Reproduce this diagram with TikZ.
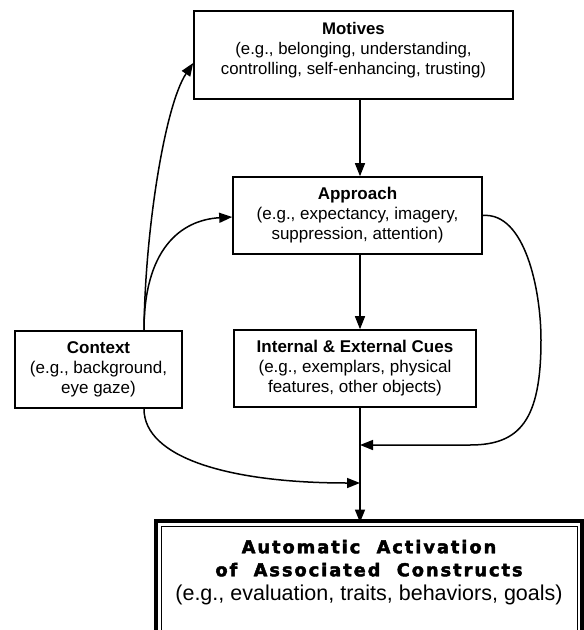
\documentclass[tikz,border=0pt]{standalone}
\usepackage{fontspec}
\setmainfont{Liberation Sans}
\newfontfamily\heavyfont{DejaVu Sans Bold}[LetterSpace=11,FakeBold=2.5]
\usetikzlibrary{arrows.meta}
\tikzset{
  boxnode/.style={draw, line width=1.6pt, align=center, inner sep=0pt,
    font=\fontsize{17}{20}\selectfont},
  arr/.style={line width=1.5pt, -{Triangle[length=13pt,width=10pt]}}
}
\begin{document}
\begin{tikzpicture}[x=1pt,y=-1pt]
\useasboundingbox (0,0) rectangle (584,630);
\node[boxnode, minimum width=319pt, minimum height=88pt,
  font=\fontsize{16.8}{20}\selectfont] (motives) at (353.5,55)
  {\textbf{Motives}\\(e.g., belonging, understanding,\\controlling, self-enhancing, trusting)\\[-6pt]~};
\node[boxnode, minimum width=249pt, minimum height=77pt] (approach) at (357.5,215.5)
  {\textbf{Approach}\\(e.g., expectancy, imagery,\\suppression, attention)};
\node[boxnode, minimum width=242pt, minimum height=77pt] (cues) at (355,368.5)
  {\textbf{Internal \& External Cues}\\(e.g., exemplars, physical\\features, other objects)};
\node[boxnode, minimum width=167pt, minimum height=77pt] (context) at (98.5,369.5)
  {\textbf{Context}\\(e.g., background,\\eye gaze)};
\node[boxnode, line width=1pt, minimum width=416pt, minimum height=110pt,
  font=\heavyfont\fontsize{17.8}{23}\selectfont] (final) at (369,581)
  {Automatic\ \ Activation\\of\ \ Associated\ \ Constructs\\[1pt]
   \normalfont\fontsize{21.5}{23}\selectfont (e.g., evaluation, traits, behaviors, goals)\\[-1pt]~};
\draw[line width=3.2pt] ([xshift=-4.5pt,yshift=4.5pt]final.north west) rectangle ([xshift=4.5pt,yshift=-4.5pt]final.south east);

% spine of the diagram
\coordinate (spine) at (360,0);
\coordinate (join1) at (360,445);
\coordinate (join2) at (360,483);
\draw[arr] (motives.south -| spine) -- (approach.north -| spine);
\draw[arr] (approach.south -| spine) -- (cues.north -| spine);
\draw[arr] (cues.south -| spine) -- ([yshift=3pt]final.north -| spine);

% context
\draw[arr] ([xshift=45.5pt]context.north) .. controls (145,230) and (165,105) .. ([yshift=-8pt]motives.west);
\draw[arr] ([xshift=45.5pt]context.north) .. controls (144,250) and (180,220) .. ([yshift=-1.5pt]approach.west);
\draw[arr] ([xshift=45.5pt]context.south) .. controls (144,458) and (230,483) .. (join2);

% approach feeds back
\draw[arr] (approach.east) .. controls (525,212) and (541,290) .. (541,340)
  .. controls (541,420) and (520,445) .. (470,445) -- (join1);
\end{tikzpicture}
\end{document}
